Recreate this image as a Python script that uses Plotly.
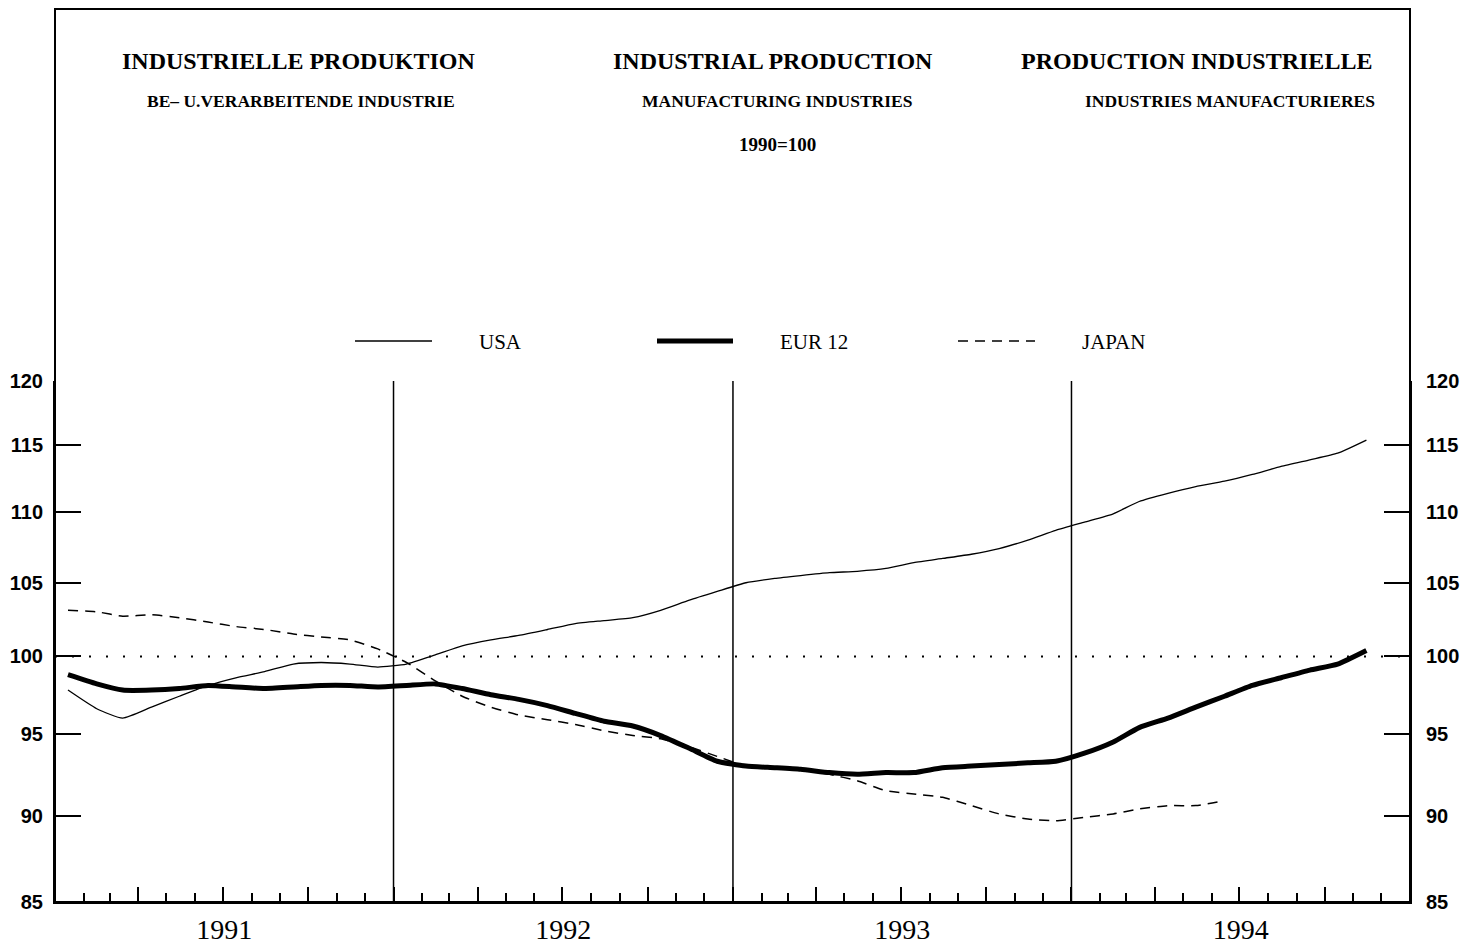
import math
import plotly.graph_objects as go

# monthly index 1990=100, Jan 1991 onwards
USA = [97.8, 96.6, 96.0, 96.7, 97.4, 98.1, 98.6, 99.0, 99.5, 99.6, 99.5, 99.3,
       99.5, 100.1, 100.7, 101.1, 101.4, 101.8, 102.2, 102.4, 102.6, 103.1, 103.8, 104.4,
       105.0, 105.3, 105.5, 105.7, 105.8, 106.0, 106.4, 106.7, 107.0, 107.4, 108.0, 108.7,
       109.3, 109.9, 110.8, 111.4, 111.9, 112.3, 112.8, 113.4, 113.9, 114.4, 115.4]
EUR12 = [98.8, 98.2, 97.8, 97.8, 97.9, 98.1, 98.0, 97.9, 98.0, 98.1, 98.1, 98.0,
         98.1, 98.2, 97.9, 97.5, 97.2, 96.8, 96.3, 95.8, 95.5, 94.9, 94.1, 93.3,
         93.0, 92.9, 92.8, 92.6, 92.5, 92.6, 92.6, 92.9, 93.0, 93.1, 93.2, 93.3,
         93.8, 94.5, 95.4, 96.0, 96.7, 97.4, 98.1, 98.6, 99.1, 99.5, 100.4]
JAPAN = [103.1, 103.0, 102.7, 102.8, 102.6, 102.3, 102.0, 101.8, 101.5, 101.3, 101.1, 100.5,
         99.6, 98.4, 97.4, 96.7, 96.2, 95.9, 95.6, 95.2, 94.9, 94.7, 94.2, 93.6,
         93.0, 92.9, 92.8, 92.5, 92.1, 91.5, 91.3, 91.1, 90.6, 90.1, 89.8, 89.7,
         89.9, 90.1, 90.4, 90.6, 90.6, 90.9]

YEARS = [1991, 1992, 1993, 1994]
Y_TICKS = [85, 90, 95, 100, 105, 110, 115, 120]
BASE = 100


def months(n):
    return [f"{YEARS[0] + i // 12}-{i % 12 + 1:02d}-15" for i in range(n)]


W, H = 1462, 949
L, R, T, B = 55, 52, 381, 47
PW, PH = W - L - R, H - T - B


def px(x):
    return (x - L) / PW


def py(y):
    return (H - B - y) / PH


SERIF = "Liberation Serif, Times New Roman, serif"
SANS = "Liberation Sans, Arial, sans-serif"

fig = go.Figure()
fig.add_trace(go.Scatter(x=months(len(USA)), y=USA, mode="lines", name="USA",
                         line=dict(color="black", width=1.3, shape="spline", smoothing=0.5)))
fig.add_trace(go.Scatter(x=months(len(EUR12)), y=EUR12, mode="lines", name="EUR 12",
                         line=dict(color="black", width=5, shape="spline", smoothing=0.5)))
fig.add_trace(go.Scatter(x=months(len(JAPAN)), y=JAPAN, mode="lines", name="JAPAN",
                         line=dict(color="black", width=1.5, dash="10px,7px", shape="spline", smoothing=0.5)))
# carrier for the mirrored axes
fig.add_trace(go.Scatter(x=months(len(EUR12)), y=EUR12, xaxis="x2", yaxis="y2", mode="lines",
                         line=dict(width=0), opacity=0, hoverinfo="skip", showlegend=False))

x_range = [f"{YEARS[0]}-01-01", f"{YEARS[-1] + 1}-01-01"]

shapes = [
    dict(type="rect", xref="paper", yref="paper", x0=0, x1=1, y0=0, y1=py(9),
         line=dict(color="black", width=2)),
    dict(type="line", xref="paper", yref="y", x0=0, x1=1, y0=BASE, y1=BASE,
         line=dict(color="black", width=2, dash="2px,15px")),
]
for yr in YEARS[1:]:
    shapes.append(dict(type="line", xref="x", yref="y", x0=f"{yr}-01-01", x1=f"{yr}-01-01",
                       y0=Y_TICKS[0], y1=Y_TICKS[-1], line=dict(color="black", width=1.5)))

# legend drawn by hand
legend = [("USA", 355, 432, dict(width=1.3)),
          ("EUR 12", 657, 733, dict(width=5)),
          ("JAPAN", 958, 1035, dict(width=1.5, dash="10px,7px"))]
annotations = []
for name, x0, x1, st in legend:
    shapes.append(dict(type="line", xref="paper", yref="paper", x0=px(x0), x1=px(x1),
                       y0=py(341), y1=py(341), line=dict(color="black", **st)))
    annotations.append(dict(text=name, xref="paper", yref="paper", x=px(x1 + 45), y=py(342),
                            xanchor="left", yanchor="middle", showarrow=False,
                            font=dict(family=SERIF, size=21, color="black")))

titles = [("INDUSTRIELLE PRODUKTION", 298, 61, 24),
          ("INDUSTRIAL PRODUCTION", 773, 61, 24),
          ("PRODUCTION INDUSTRIELLE", 1196, 61, 24),
          ("BE\u2013 U.VERARBEITENDE INDUSTRIE", 301, 101, 17.5),
          ("MANUFACTURING INDUSTRIES", 777, 101, 17.5),
          ("INDUSTRIES MANUFACTURIERES", 1230, 101, 17.5),
          ("1990=100", 777, 144, 19)]
for text, x, y, size in titles:
    annotations.append(dict(text=f"<b>{text}</b>", xref="paper", yref="paper", x=px(x), y=py(y),
                            xanchor="center", yanchor="middle", showarrow=False,
                            font=dict(family=SERIF, size=size, color="black")))

yaxis_common = dict(type="log", range=[math.log10(Y_TICKS[0]), math.log10(Y_TICKS[-1])],
                    tickvals=Y_TICKS, ticktext=[f"<b>{v}</b>" for v in Y_TICKS],
                    ticks="inside", ticklen=26, tickwidth=2, tickcolor="black",
                    showgrid=False, zeroline=False, showline=True, linecolor="black", linewidth=2,
                    automargin=False,
                    tickfont=dict(family=SANS, size=20, color="black"))
xaxis_common = dict(type="date", range=x_range, showgrid=False, zeroline=False,
                    showline=True, linecolor="black", linewidth=2, automargin=False)

fig.update_layout(
    width=W, height=H,
    margin=dict(l=L, r=R, t=T, b=B),
    paper_bgcolor="white", plot_bgcolor="white",
    showlegend=False,
    shapes=shapes, annotations=annotations,
    xaxis=dict(**xaxis_common, tick0=x_range[0], dtick="M12", ticklabelmode="period",
               tickformat="%Y", ticks="inside", ticklen=15, tickwidth=1.5, tickcolor="black",
               ticklabelstandoff=1,
               tickfont=dict(family=SERIF, size=28, color="black"),
               minor=dict(tick0=x_range[0], dtick="M1", ticks="inside", ticklen=9,
                          tickwidth=1.5, tickcolor="black")),
    xaxis2=dict(**xaxis_common, overlaying="x", side="bottom", tick0=x_range[0], dtick="M3",
                ticks="inside", ticklen=15, tickwidth=1.5, tickcolor="black", showticklabels=False),
    yaxis=dict(**yaxis_common, side="left", ticklabelstandoff=6),
    yaxis2=dict(**yaxis_common, side="right", overlaying="y", ticklabelstandoff=10),
)

fig.write_html("out.html", config={"displayModeBar": False},
               post_script="document.body.style.margin='0px';")
